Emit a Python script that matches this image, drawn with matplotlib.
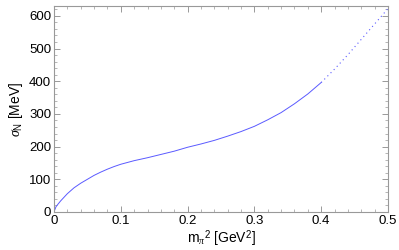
import numpy as np
import matplotlib
matplotlib.use('Agg')
import matplotlib.pyplot as plt
from matplotlib.ticker import MultipleLocator

plt.rcParams['font.family'] = ['Liberation Sans', 'DejaVu Sans']
plt.rcParams['mathtext.fontset'] = 'custom'
plt.rcParams['mathtext.rm'] = 'Liberation Sans'
plt.rcParams['mathtext.it'] = 'Liberation Serif:italic'

# solid part
m2_solid = [0.0, 0.003, 0.006, 0.01, 0.015, 0.02, 0.03, 0.04, 0.05, 0.06, 0.07, 0.08,
            0.09, 0.1, 0.12, 0.14, 0.16, 0.18, 0.2, 0.22, 0.24, 0.26, 0.28, 0.3,
            0.32, 0.34, 0.36, 0.38, 0.4]
sigma_solid = [0, 16, 24, 34, 45, 56, 74, 88, 100, 112, 122, 131,
               139, 146, 157, 166, 176, 186, 198, 208, 219, 232, 246, 262,
               282, 304, 331, 361, 396]
# dotted continuation
m2_dot = [0.4, 0.42, 0.44, 0.46, 0.48, 0.5]
sigma_dot = [396, 437, 481, 528, 575, 622]

fig = plt.figure(figsize=(3.99, 2.5), dpi=100)
ax = fig.add_axes([0.1353, 0.152, 0.8371, 0.824])

blue = '#5a5aff'
ax.plot(m2_solid, sigma_solid, color=blue, lw=0.7)
ax.plot(m2_dot, sigma_dot, color=blue, lw=0.8, ls=(0, (1, 3)))

ax.set_xlim(0, 0.5)
ax.set_ylim(0, 630)
ax.xaxis.set_minor_locator(MultipleLocator(0.02))
ax.yaxis.set_major_locator(MultipleLocator(100))
ax.yaxis.set_minor_locator(MultipleLocator(20))
ax.set_xticks([0, 0.1, 0.2, 0.3, 0.4, 0.5])
ax.set_xticklabels(['0', '0.1', '0.2', '0.3', '0.4', '0.5'])

for s in ax.spines.values():
    s.set_color('#999999')
    s.set_linewidth(0.8)
ax.tick_params(which='both', direction='in', top=True, right=True, color='#999999',
               labelsize=9.5, pad=2)
ax.tick_params(which='major', length=4, width=0.7)
ax.tick_params(which='minor', length=2, width=0.5)

ax.set_xlabel(r'm$_{\pi}$$^2$ [GeV$^2$]', fontsize=10, labelpad=1)
ax.set_ylabel(r'$\sigma_{\rm N}$ [MeV]', fontsize=10, labelpad=3)

fig.savefig('out.png', dpi=100)
